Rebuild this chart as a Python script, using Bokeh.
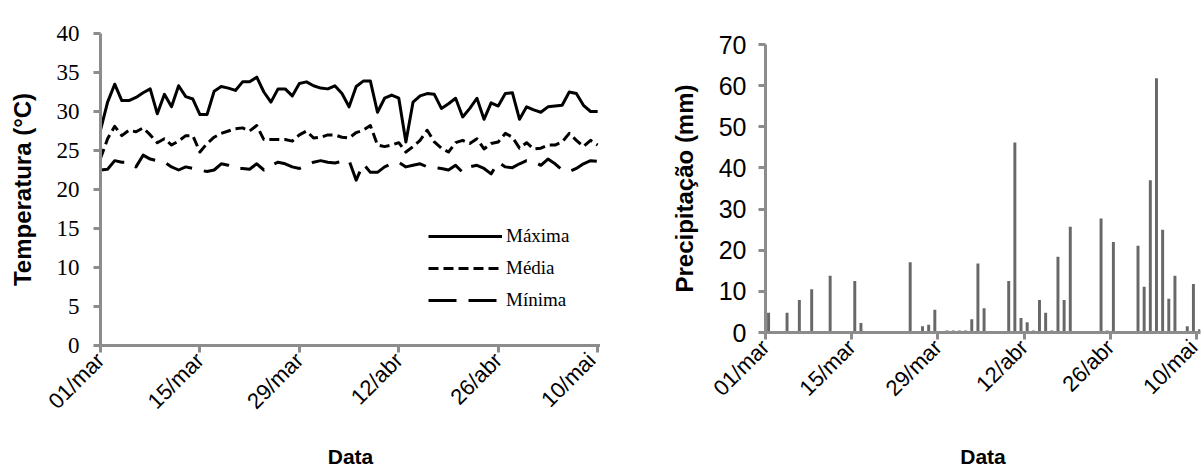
from bokeh.plotting import figure
from bokeh.models import ColumnDataSource, FixedTicker, Label, Range1d
from bokeh.layouts import row, column
from bokeh.transform import dodge
from bokeh.embed import file_html
from bokeh.resources import INLINE
import math

# ---- data ----
tick_days = [0, 14, 28, 42, 56, 70]
tick_labels = ["01/mar", "15/mar", "29/mar", "12/abr", "26/abr", "10/mai"]

t_max = [27.6, 31.2, 33.5, 31.4, 31.4, 31.8, 32.4, 32.9, 29.7, 32.2,
         30.6, 33.3, 31.9, 31.6, 29.6, 29.6, 32.6, 33.2, 33.0, 32.7,
         33.8, 33.8, 34.4, 32.5, 31.2, 32.9, 32.9, 32.0, 33.6, 33.8,
         33.3, 33.0, 32.9, 33.3, 32.3, 30.6, 33.2, 33.9, 33.9, 29.9,
         31.7, 32.1, 31.7, 26.1, 31.2, 32.0, 32.3, 32.2, 30.4, 31.0,
         31.7, 29.3, 30.4, 31.7, 29.0, 31.1, 30.7, 32.3, 32.4, 29.0,
         30.6, 30.2, 29.9, 30.6, 30.7, 30.8, 32.5, 32.3, 30.8, 30.0,
         30.0]
t_med = [24.0, 26.5, 28.1, 26.9, 27.6, 27.4, 27.9, 27.0, 26.0, 26.5,
         25.7, 26.2, 26.9, 26.9, 24.8, 25.9, 26.7, 27.2, 27.5, 27.8,
         27.9, 27.5, 28.2, 26.4, 26.4, 26.4, 26.4, 26.2, 27.0, 27.5,
         26.6, 26.7, 27.0, 27.0, 26.7, 26.6, 27.3, 27.6, 28.2, 25.7,
         25.5, 25.7, 26.0, 24.8, 25.5, 26.3, 27.6, 26.1, 25.3, 24.8,
         26.0, 26.3, 25.9, 26.5, 25.2, 25.9, 26.1, 27.2, 26.7, 25.3,
         26.0, 25.2, 25.3, 25.7, 25.7, 26.1, 27.2, 26.3, 25.5, 26.3,
         25.7]
t_min = [22.5, 22.6, 23.7, 23.5, 23.5, 22.9, 24.4, 23.9, 23.7, 23.5,
         22.9, 22.5, 22.9, 22.7, 22.5, 22.3, 22.5, 23.3, 23.1, 22.7,
         22.7, 22.6, 23.3, 22.5, 23.1, 23.5, 23.3, 22.9, 22.7, 23.1,
         23.5, 23.7, 23.5, 23.4, 23.6, 23.7, 21.2, 23.3, 22.2, 22.2,
         22.9, 23.3, 23.5, 22.9, 23.1, 23.3, 22.9, 22.8, 22.7, 22.5,
         23.1, 22.2, 22.9, 23.1, 22.7, 22.0, 23.5, 22.9, 22.8, 23.3,
         23.7, 23.6, 23.1, 23.9, 23.3, 22.5, 22.3, 22.7, 23.3, 23.7,
         23.6]
temp_days = list(range(len(t_max)))

rain_days = [0, 3, 5, 7, 10, 14, 15, 23, 25, 26, 27, 29, 30, 31, 32, 33, 34, 35,
             39, 40, 41, 42, 43, 44, 45, 46, 47, 48, 49, 54, 55, 56, 60, 61, 62,
             63, 64, 65, 66, 68, 69, 70]
rain_mm = [4.8, 4.8, 7.9, 10.5, 13.8, 12.5, 2.3, 17.1, 1.5, 1.9, 5.5, 0.5, 0.5,
           0.5, 0.5, 3.2, 16.8, 5.9, 12.5, 46.2, 3.5, 2.5, 0.5, 7.9, 4.8, 0.5,
           18.4, 7.9, 25.7, 27.7, 0.5, 22.0, 21.1, 11.1, 37.0, 61.8, 25.0, 8.2,
           13.8, 1.5, 11.8, 0.8]

SANS = "Liberation Sans"
SERIF = "Liberation Serif"
AXIS_COLOR = "#8c8c8c"


def style_axes(p, ytick_font, ytick_size, xlabel_standoff, ylabel_standoff, ytick_standoff):
    p.grid.visible = False
    p.outline_line_color = None
    p.background_fill_color = "white"
    p.border_fill_color = "white"
    for ax in p.axis:
        ax.axis_line_color = AXIS_COLOR
        ax.axis_line_width = 3
        ax.major_tick_line_color = AXIS_COLOR
        ax.major_tick_line_width = 3
        ax.major_tick_in = 0
        ax.major_tick_out = 7
        ax.minor_tick_line_color = None
        ax.axis_label_text_font = SANS
        ax.axis_label_text_font_style = "bold"
        ax.axis_label_text_color = "black"
        ax.major_label_text_color = "black"
    xa = p.xaxis[0]
    xa.ticker = FixedTicker(ticks=tick_days)
    xa.major_label_overrides = {d: s for d, s in zip(tick_days, tick_labels)}
    xa.major_label_orientation = math.pi / 4
    xa.major_label_text_font = SANS
    xa.major_label_text_font_size = "22px"
    xa.major_label_standoff = 4
    xa.axis_label = "Data"
    xa.axis_label_text_font_size = "21px"
    xa.axis_label_standoff = xlabel_standoff
    ya = p.yaxis[0]
    ya.major_label_text_font = ytick_font
    ya.major_label_text_font_size = ytick_size
    ya.major_label_standoff = ytick_standoff
    ya.axis_label_standoff = ylabel_standoff
    ya.axis_label_text_font_size = "24px"


# ---- panel A ----
src_t = ColumnDataSource(dict(day=temp_days, tmax=t_max, tmed=t_med, tmin=t_min))
p1 = figure(width=600, height=470, output_backend="svg", toolbar_location=None,
            x_range=Range1d(0, 70.4), y_range=Range1d(0, 40),
            min_border_left=100, min_border_right=0, min_border_top=33,
            min_border_bottom=125)
p1.line("day", "tmax", source=src_t, line_color="black", line_width=3,
        line_join="round", legend_label="Máxima")
p1.line("day", "tmed", source=src_t, line_color="black", line_width=3,
        line_dash="10 5", line_join="round", legend_label="Média")
p1.line("day", "tmin", source=src_t, line_color="black", line_width=3,
        line_dash="28 12", line_join="round", legend_label="Mínima")
style_axes(p1, SERIF, "23px", 19, 18, 14)
p1.yaxis[0].ticker = FixedTicker(ticks=[0, 5, 10, 15, 20, 25, 30, 35, 40])
p1.yaxis[0].axis_label = "Temperatura (°C)"
lg = p1.legend[0]
lg.location = (328, 29)
lg.border_line_color = None
lg.background_fill_alpha = 0
lg.padding = 0
lg.margin = 0
lg.spacing = 0
lg.glyph_width = 74
lg.glyph_height = 32
lg.label_height = 32
lg.label_standoff = 4
lg.label_text_font = SERIF
lg.label_text_font_size = "19px"
lg.label_text_color = "black"
p1.add_layout(Label(x=58.6, y=41.7, text="(A)", text_font=SANS, text_font_style="bold",
                    text_font_size="21px", text_align="center", text_baseline="middle"))

# ---- panel B ----
src_r = ColumnDataSource(dict(day=rain_days, mm=rain_mm))
p2 = figure(width=602, height=470, output_backend="svg", toolbar_location=None,
            x_range=Range1d(0, 70.65), y_range=Range1d(0, 70),
            min_border_left=165, min_border_right=2, min_border_top=44,
            min_border_bottom=137)
p2.vbar(x=dodge("day", 0.5, range=p2.x_range), top="mm", bottom=0, width=0.48,
        source=src_r, fill_color="#686868", line_color=None)
style_axes(p2, SANS, "25px", 32, 18, 12)
p2.yaxis[0].ticker = FixedTicker(ticks=[0, 10, 20, 30, 40, 50, 60, 70])
p2.yaxis[0].axis_label = "Precipitação (mm)"
p2.add_layout(Label(x=55.5, y=75.5, text="(B)", text_font=SANS, text_font_style="bold",
                    text_font_size="21px", text_align="center", text_baseline="middle"))

layout = row(column(p1), column(p2))
open("out.html", "w").write(file_html(layout, INLINE))
